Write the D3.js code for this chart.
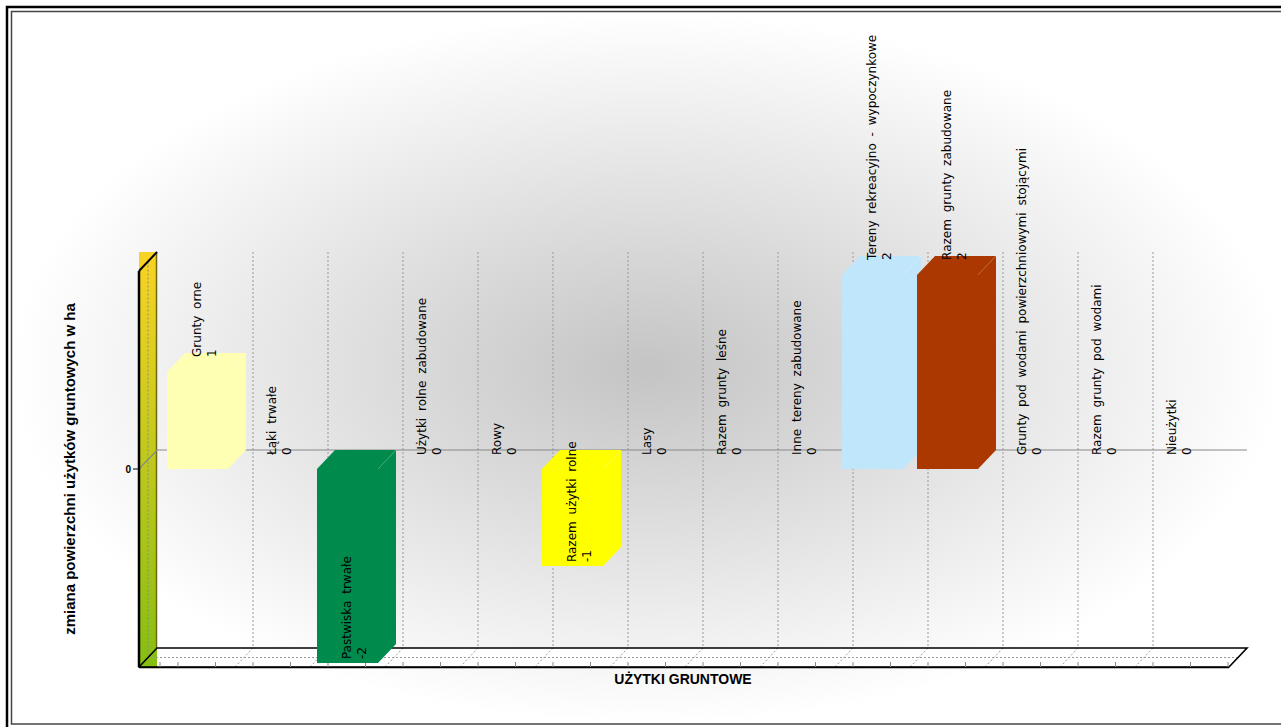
<!DOCTYPE html>
<html>
<head>
<meta charset="utf-8">
<script src="https://cdn.jsdelivr.net/npm/d3@7"></script>
<style>
  body { margin: 0; background: #fff; }
  svg { display: block; }
</style>
</head>
<body>
<div id="chart"></div>
<script>
var categories = [
  "Grunty orne", "Łąki trwałe", "Pastwiska trwałe", "Użytki rolne zabudowane",
  "Rowy", "Razem użytki rolne", "Lasy", "Razem grunty leśne",
  "Inne tereny zabudowane", "Tereny rekreacyjno - wypoczynkowe", "Razem grunty zabudowane",
  "Grunty pod wodami powierzchniowymi stojącymi", "Razem grunty pod wodami", "Nieużytki"
];
var values = [1, 0, -2, 0, 0, -1, 0, 0, 0, 2, 2, 0, 0, 0];
var barColors = [
  "#ffffb3", "#c0c0c0", "#008a4c", "#c0c0c0", "#c0c0c0", "#ffff00", "#c0c0c0",
  "#c0c0c0", "#c0c0c0", "#bfe6fb", "#aa3800", "#c0c0c0", "#c0c0c0", "#c0c0c0"
];
var yTicks = [0];
var yTitle = "zmiana powierzchni użytków gruntowych w ha";
var xTitle = "UŻYTKI GRUNTOWE";

var W = 1281, H = 727;
var dx = 18, dy = 19;          // depth of the 3d box
var barW = 61;

var svg = d3.select("#chart").append("svg")
  .attr("width", W).attr("height", H);

var defs = svg.append("defs");
var bg = defs.append("radialGradient").attr("id", "bg")
  .attr("cx", "50%").attr("cy", "50%").attr("r", "50%");
bg.append("stop").attr("offset", "0%").attr("stop-color", "#c4c4c4");
bg.append("stop").attr("offset", "100%").attr("stop-color", "#ffffff");

var wallGrad = defs.append("linearGradient").attr("id", "wall")
  .attr("x1", 0).attr("y1", 0).attr("x2", 0).attr("y2", 1);
wallGrad.append("stop").attr("offset", "0%").attr("stop-color", "#f9d323");
wallGrad.append("stop").attr("offset", "100%").attr("stop-color", "#86be12");

// background and frame
svg.append("rect").attr("x", 12).attr("y", 12).attr("width", 1269).attr("height", 712)
  .attr("fill", "url(#bg)");
svg.append("rect").attr("x", 7).attr("y", 7).attr("width", 1300).attr("height", 740)
  .attr("fill", "none").attr("stroke", "#000").attr("stroke-width", 2.5);
svg.append("rect").attr("x", 11.5).attr("y", 11.5).attr("width", 1290).attr("height", 712.5)
  .attr("fill", "none").attr("stroke", "#444").attr("stroke-width", 1.5);

// scales (front plane)
var y = d3.scaleLinear().domain([-2.04, 2.04]).range([667, 271]);
var x = d3.scaleBand().domain(categories).range([160, 1210]);
var bw = x.bandwidth();
var pad = (bw - barW) / 2;

var wallX = 139;
var yBot = y.range()[0], yTop = y.range()[1];
var floorRight = x.range()[1] + 19;

var g = svg.append("g");

// floor
g.append("polygon")
  .attr("points", [[wallX, yBot], [wallX + dx, yBot - dy], [floorRight + dx, yBot - dy], [floorRight, yBot]].join(" "))
  .attr("fill", "#fff");

// left wall
g.append("rect").attr("x", wallX).attr("y", yTop - dy).attr("width", dx).attr("height", yBot - yTop + dy)
  .attr("fill", "url(#wall)");
g.append("line").attr("x1", wallX + dx - 0.5).attr("x2", wallX + dx - 0.5)
  .attr("y1", yTop - dy).attr("y2", yBot - dy)
  .attr("stroke", "#6f6a10").attr("stroke-width", 1.5);
g.append("line").attr("x1", wallX + dx / 2).attr("x2", wallX + dx / 2)
  .attr("y1", yTop - dy / 2).attr("y2", yBot - dy / 2)
  .attr("stroke", "#8a8a8a").attr("stroke-dasharray", "2,2");

// vertical grid lines on back wall + floor
var gridXs = categories.slice(1).map(function(c) { return x(c) + dx; });
gridXs.forEach(function(gx) {
  g.append("path")
    .attr("d", "M" + gx + "," + (yTop - dy) + "V" + (yBot - dy) + "L" + (gx - dx) + "," + yBot)
    .attr("fill", "none").attr("stroke", "#999").attr("stroke-dasharray", "2,2");
});
g.append("line").attr("x1", wallX + dx / 2).attr("x2", floorRight + dx / 2)
  .attr("y1", yBot - dy / 2).attr("y2", yBot - dy / 2)
  .attr("stroke", "#999").attr("stroke-dasharray", "2,2");

// zero line
g.append("path")
  .attr("d", "M" + wallX + "," + y(0) + "L" + (wallX + dx) + "," + (y(0) - dy) + "H" + (floorRight + dx))
  .attr("fill", "none").attr("stroke", "#888").attr("stroke-width", 1.2);

// box outline
g.append("path")
  .attr("d", "M" + wallX + "," + yTop + "L" + (wallX + dx) + "," + (yTop - dy))
  .attr("stroke", "#000").attr("stroke-width", 2);
g.append("path")
  .attr("d", "M" + wallX + "," + yTop + "V" + yBot + "H" + floorRight + "L" + (floorRight + dx) + "," + (yBot - dy) +
    "H" + (wallX + dx) + "L" + wallX + "," + yBot)
  .attr("fill", "none").attr("stroke", "#000").attr("stroke-width", 1.6);
g.append("line").attr("x1", wallX).attr("x2", floorRight).attr("y1", yBot + 0.5).attr("y2", yBot + 0.5)
  .attr("stroke", "#000").attr("stroke-width", 1.5);
g.append("line").attr("x1", wallX).attr("x2", wallX).attr("y1", yTop).attr("y2", yBot)
  .attr("stroke", "#000").attr("stroke-width", 2.5);

// small ticks along front floor edge
var ticks = d3.range(0, 2 * categories.length + 1).map(function(k) { return x.range()[0] + dx + k * bw / 2; });
ticks.unshift(wallX + 21);
ticks.forEach(function(tx) {
  g.append("line").attr("x1", tx).attr("x2", tx).attr("y1", yBot - 5).attr("y2", yBot)
    .attr("stroke", "#888");
});

// y axis tick
yTicks.forEach(function(t) {
  g.append("line").attr("x1", wallX - 6).attr("x2", wallX).attr("y1", y(t)).attr("y2", y(t))
    .attr("stroke", "#000");
  g.append("text").attr("x", wallX - 8).attr("y", y(t)).attr("dy", "0.35em")
    .attr("text-anchor", "end").attr("font-family", "Liberation Sans, Arial, sans-serif")
    .attr("font-size", 10).attr("font-weight", "bold").text(t);
});

// bars
categories.forEach(function(c, i) {
  var v = values[i];
  if (v === 0) return;
  var fx = x(c) + pad;
  var top = y(Math.max(v, 0)), bot = y(Math.min(v, 0));
  var pts = [[fx, top], [fx + dx, top - dy], [fx + barW + dx, top - dy], [fx + barW + dx, bot - dy],
    [fx + barW, bot], [fx, bot]];
  g.append("polygon").attr("points", pts.join(" ")).attr("fill", barColors[i]);
  g.append("line").attr("x1", fx + barW).attr("y1", top).attr("x2", fx + barW + dx).attr("y2", top - dy)
    .attr("stroke", "#fff").attr("stroke-opacity", 0.35).attr("stroke-width", 0.8);
});

// labels
categories.forEach(function(c, i) {
  var v = values[i];
  var bl = x(c) + pad + dx;
  var ys;
  if (v > 0) ys = y(v) - dy + 4;
  else if (v < 0) ys = y(v) - 4;
  else ys = y(0) - dy + 5;
  [c, String(v)].forEach(function(t, k) {
    g.append("text")
      .attr("transform", "translate(" + (bl + 16 + k * 15) + "," + ys + ") rotate(-90)")
      .attr("font-family", "DejaVu Sans, sans-serif").attr("font-size", 12)
      .attr("word-spacing", 3).attr("fill", "#000")
      .text(t);
  });
});

// titles
svg.append("text")
  .attr("transform", "translate(75," + y(0) + ") rotate(-90)")
  .attr("text-anchor", "middle").attr("font-family", "Liberation Sans, Arial, sans-serif")
  .attr("font-size", 15).attr("font-weight", "bold").text(yTitle);
svg.append("text")
  .attr("x", 683).attr("y", 684)
  .attr("text-anchor", "middle").attr("font-family", "Liberation Sans, Arial, sans-serif")
  .attr("font-size", 14).attr("font-weight", "bold").text(xTitle);
</script>
</body>
</html>
